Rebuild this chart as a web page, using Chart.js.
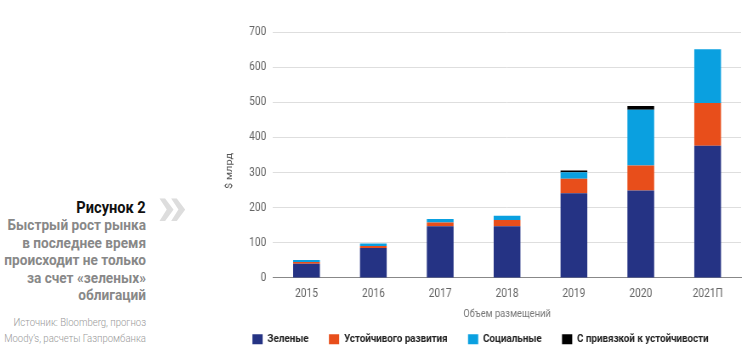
<!DOCTYPE html>
<html><head><meta charset="utf-8">
<script src="https://cdn.jsdelivr.net/npm/chart.js@4/dist/chart.umd.min.js"></script>
<style>
html,body{margin:0;padding:0;background:#fff;}
body{width:744px;height:359px;position:relative;overflow:hidden;font-family:Roboto,"Liberation Sans",sans-serif;}
.blk{position:absolute;right:598px;text-align:right;white-space:nowrap;transform-origin:right top;}
#t{top:196px;font-weight:bold;font-size:17px;color:#111;line-height:22px;transform:scaleX(0.86);}
#s{top:217px;font-weight:bold;font-size:15.5px;color:#888;line-height:17.6px;transform:scaleX(0.88);}
#src{top:315px;font-size:11px;font-weight:300;color:#999;line-height:15.5px;transform:scaleX(0.87);}
#chev{position:absolute;left:157px;top:176px;font-size:58px;font-weight:bold;color:#ddd;line-height:58px;transform:scaleX(1.05);transform-origin:left top;}
#wrap{position:absolute;left:220px;top:0;width:616px;height:359px;transform:scaleX(0.85);transform-origin:left top;}
</style></head>
<body>
<div class="blk" id="t">Рисунок 2</div>
<div class="blk" id="s">Быстрый рост рынка<br>в последнее время<br>происходит не только<br>за счет «зеленых»<br>облигаций</div>
<div class="blk" id="src">Источник: Bloomberg, прогноз<br>Moody’s, расчеты Газпромбанка</div>
<div id="chev">»</div>
<div id="wrap"><canvas id="c" width="616" height="359" style="width:616px;height:359px"></canvas></div>
<script>
const categories = ["2015","2016","2017","2018","2019","2020","2021П"];
const green = [40, 85, 147, 147, 241, 249, 376];
const sustainable = [5, 6, 11, 18, 41, 71, 122];
const social = [6, 7, 10, 12, 19, 159, 153];
const linked = [0, 0, 0, 0, 5, 10, 0];
const seriesNames = ["Зеленые","Устойчивого развития","Социальные","С привязкой к устойчивости"];
const seriesColors = ["#253384","#E84E1B","#0AA0E0","#000000"];
const yTicks = [0,100,200,300,400,500,600,700];
const yTitle = "$ млрд";

const FONT = 'Roboto,"Liberation Sans",sans-serif';
const data = [green, sustainable, social, linked];

const yTitlePlugin = {
  id: 'yTitle',
  afterDraw(chart) {
    const {ctx, chartArea} = chart;
    const cy = chartArea.top + (chartArea.bottom - chartArea.top) * 0.565;
    ctx.save();
    ctx.translate(11.5, cy);
    ctx.rotate(-Math.PI / 2);
    ctx.font = '11px ' + FONT;
    ctx.fillStyle = '#555';
    ctx.textAlign = 'center';
    ctx.textBaseline = 'middle';
    ctx.fillText(yTitle, 0, 0);
    ctx.restore();
  }
};

new Chart(document.getElementById('c'), {
  type: 'bar',
  data: {
    labels: categories,
    datasets: data.map((d,i)=>({label: seriesNames[i], data: d, backgroundColor: seriesColors[i],
      borderWidth: 0, barPercentage: 0.4, categoryPercentage: 1}))
  },
  plugins: [yTitlePlugin],
  options: {
    responsive: false, animation: false, devicePixelRatio: 1,
    layout: {padding: {top: 32, right: 3, left: 0, bottom: 4}},
    plugins: {
      tooltip: {enabled: false},
      legend: {position: 'bottom', labels: {boxWidth: 12, boxHeight: 10, padding: 24, color: '#222',
        font: {family: FONT, size: 11.5, weight: 'bold'}}}
    },
    scales: {
      x: {stacked: true, grid: {display: false}, border: {display: true, color: '#888', width: 1},
        ticks: {color: '#666', font: {family: FONT, size: 12}, padding: 1},
        title: {display: true, text: 'Объем размещений', color: '#777', font: {family: FONT, size: 11}, padding: {top: 5, bottom: -11}}},
      y: {stacked: true, min: 0, max: 700, afterBuildTicks: s => { s.ticks = yTicks.map(v=>({value: v})); },
        grid: {color: '#dedede', drawTicks: false}, border: {display: false},
        ticks: {color: '#666', font: {family: FONT, size: 12}, padding: 8},
        title: {display: false},
        afterFit: s => { s.width = 62.4; }}
    }
  }
});
</script>
</body></html>
